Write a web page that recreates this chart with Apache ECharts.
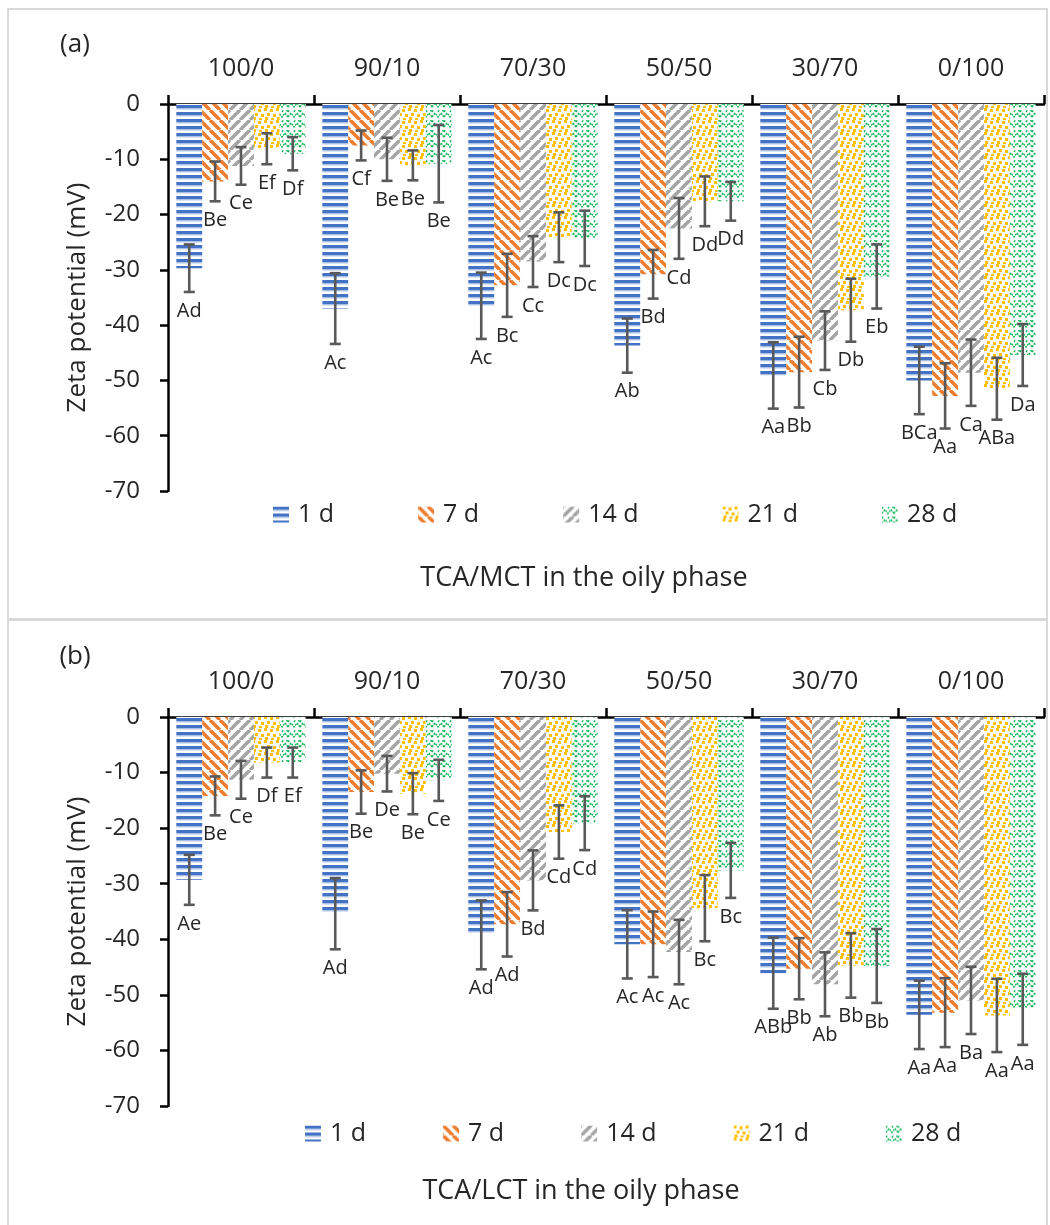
<!DOCTYPE html>
<html>
<head>
<meta charset="utf-8">
<script src="https://cdn.jsdelivr.net/npm/echarts@6/dist/echarts.min.js"></script>
<style>
  html, body { margin:0; padding:0; background:#fff; }
  body { width:1050px; height:1225px; position:relative; overflow:hidden; }
  .frame { position:absolute; box-sizing:border-box; border:2.5px solid #d9d9d9; }
  .chart { position:absolute; left:0; width:1050px; }
</style>
</head>
<body>
<div class="frame" style="left:7px; top:8px; width:1041px; height:613px;"></div>
<div class="frame" style="left:7px; top:618px; width:1041px; height:640px;"></div>
<div id="chartA" class="chart" style="top:0; height:619px;"></div>
<div id="chartB" class="chart" style="top:620px; height:605px;"></div>
<script>
// ---------------- DATA ----------------
const categories = ['100/0', '90/10', '70/30', '50/50', '30/70', '0/100'];
const seriesNames = ['1 d', '7 d', '14 d', '21 d', '28 d'];
const yTicks = { min: -70, max: 0, step: 10 };

// Panel (a): TCA/MCT — mean zeta potential (mV)
const mct_1d  = [-29.7, -37.0, -36.5, -43.7, -49.1, -50.0];
const mct_7d  = [-14.0,  -7.5, -32.8, -30.8, -48.5, -52.8];
const mct_14d = [-11.2, -10.0, -28.5, -22.5, -42.8, -48.6];
const mct_21d = [ -8.1, -11.1, -24.1, -17.6, -37.3, -51.5];
const mct_28d = [ -9.0, -10.8, -24.3, -17.6, -31.2, -45.4];
// Panel (a): standard deviations
const mct_1d_sd  = [4.3, 6.4, 6.0, 4.9, 6.0, 6.1];
const mct_7d_sd  = [3.6, 2.7, 5.7, 4.4, 6.4, 5.9];
const mct_14d_sd = [3.4, 3.9, 4.6, 5.5, 5.3, 6.0];
const mct_21d_sd = [2.8, 2.7, 4.5, 4.5, 5.7, 5.6];
const mct_28d_sd = [3.0, 7.0, 5.0, 3.5, 5.8, 5.6];
// Panel (a): significance letters
const mct_1d_lbl  = ['Ad', 'Ac', 'Ac', 'Ab', 'Aa', 'BCa'];
const mct_7d_lbl  = ['Be', 'Cf', 'Bc', 'Bd', 'Bb', 'Aa'];
const mct_14d_lbl = ['Ce', 'Be', 'Cc', 'Cd', 'Cb', 'Ca'];
const mct_21d_lbl = ['Ef', 'Be', 'Dc', 'Dd', 'Db', 'ABa'];
const mct_28d_lbl = ['Df', 'Be', 'Dc', 'Dd', 'Eb', 'Da'];

// Panel (b): TCA/LCT — mean zeta potential (mV)
const lct_1d  = [-29.3, -35.4, -39.2, -40.9, -46.1, -53.6];
const lct_7d  = [-14.2, -13.5, -37.3, -40.9, -45.3, -53.2];
const lct_14d = [-11.3, -10.2, -29.4, -42.3, -48.1, -51.0];
const lct_21d = [ -8.2, -13.8, -20.7, -34.4, -44.7, -53.7];
const lct_28d = [ -8.2, -11.4, -19.1, -27.6, -44.8, -52.6];
// Panel (b): standard deviations
const lct_1d_sd  = [4.5, 6.4, 6.2, 6.15, 6.4, 6.15];
const lct_7d_sd  = [3.5, 3.9, 5.8, 5.9, 5.5, 6.2];
const lct_14d_sd = [3.4, 3.2, 5.4, 5.8, 5.75, 6.05];
const lct_21d_sd = [2.7, 3.7, 4.8, 5.95, 5.8, 6.6];
const lct_28d_sd = [2.7, 3.7, 4.85, 4.95, 6.65, 6.4];
// Panel (b): significance letters
const lct_1d_lbl  = ['Ae', 'Ad', 'Ad', 'Ac', 'ABb', 'Aa'];
const lct_7d_lbl  = ['Be', 'Be', 'Ad', 'Ac', 'Bb', 'Aa'];
const lct_14d_lbl = ['Ce', 'De', 'Bd', 'Ac', 'Ab', 'Ba'];
const lct_21d_lbl = ['Df', 'Be', 'Cd', 'Bc', 'Bb', 'Aa'];
const lct_28d_lbl = ['Ef', 'Ce', 'Cd', 'Bc', 'Bb', 'Aa'];

// ---------------- PATTERNS ----------------
const COLORS = ['#4472C4', '#ED7D31', '#A5A5A5', '#FFC000', '#00B050'];
function makeCanvas(w, h) {
  const c = document.createElement('canvas');
  c.width = w; c.height = h;
  const ctx = c.getContext('2d');
  ctx.fillStyle = '#ffffff'; ctx.fillRect(0, 0, w, h);
  return [c, ctx];
}
function patHorizontal(col) {
  const [c, ctx] = makeCanvas(8, 7);
  ctx.fillStyle = col; ctx.fillRect(0, 0, 8, 3.5);
  ctx.fillStyle = '#b4c7e7'; ctx.fillRect(0, 3.5, 8, 1);
  return c;
}
function patDiag(col, down) {
  const s = 10;
  const [c, ctx] = makeCanvas(s, s);
  ctx.strokeStyle = col; ctx.lineWidth = 3.6; ctx.lineCap = 'butt';
  for (let o = -s; o <= s; o += s) {
    ctx.beginPath();
    if (down) { ctx.moveTo(o, 0); ctx.lineTo(o + s, s); }
    else { ctx.moveTo(o, s); ctx.lineTo(o + s, 0); }
    ctx.stroke();
  }
  return c;
}
function patConfetti(col) {
  const [c, ctx] = makeCanvas(12, 12);
  ctx.fillStyle = col;
  const pts = [[0,0],[6,1],[3,5],[9,6],[1,9],[7,10]];
  pts.forEach(p => ctx.fillRect(p[0], p[1], 3, 3));
  return c;
}
function patWave(col) {
  const [c, ctx] = makeCanvas(12, 10);
  ctx.strokeStyle = col; ctx.lineWidth = 1.4;
  ctx.setLineDash([2, 1]);
  ctx.beginPath();
  ctx.moveTo(0, 7); ctx.lineTo(3, 3); ctx.lineTo(6, 7); ctx.lineTo(9, 3); ctx.lineTo(12, 7);
  ctx.stroke();
  ctx.beginPath();
  ctx.moveTo(0, 2); ctx.lineTo(1.5, 0); ctx.moveTo(6, 2); ctx.lineTo(7.5, 0); ctx.moveTo(10.5,0); ctx.lineTo(12,2);
  ctx.stroke();
  return c;
}
const PATTERNS = [
  { image: patHorizontal(COLORS[0]), repeat: 'repeat' },
  { image: patDiag(COLORS[1], true), repeat: 'repeat' },
  { image: patDiag(COLORS[2], false), repeat: 'repeat' },
  { image: patConfetti(COLORS[3]), repeat: 'repeat' },
  { image: patWave(COLORS[4]), repeat: 'repeat' }
];

// ---------------- CHART BUILDER ----------------
const GAP = 0.114;
const FONT = 'Open Sans';
const TXT = '#262626';

function buildOption(p) {
  const series = [];
  p.means.forEach((m, k) => {
    series.push({
      name: seriesNames[k], type: 'bar', data: m,
      barGap: '0%', barCategoryGap: (GAP * 100) + '%',
      itemStyle: { color: PATTERNS[k] }, z: 2
    });
  });
  p.means.forEach((m, k) => {
    const sd = p.sds[k], lbl = p.labels[k];
    series.push({
      name: 'err' + k, type: 'custom', z: 5, clip: false,
      data: m.map((v, i) => [i, v, sd[i]]),
      encode: { x: 0, y: 1 },
      renderItem: function (params, api) {
        const ci = api.value(0), mean = api.value(1), err = api.value(2);
        const c = api.coord([ci, mean]);
        const band = api.size([1, 0])[0];
        const gw = band * (1 - GAP), bw = gw / seriesNames.length;
        const x = c[0] - gw / 2 + (k + 0.5) * bw;
        const yT = api.coord([ci, mean + err])[1];
        const yB = api.coord([ci, mean - err])[1];
        const st = { stroke: '#595959', lineWidth: 2.6 };
        const cap = 5.5;
        return {
          type: 'group',
          children: [
            { type: 'line', shape: { x1: x, y1: yT, x2: x, y2: yB }, style: st },
            { type: 'line', shape: { x1: x - cap, y1: yT, x2: x + cap, y2: yT }, style: st },
            { type: 'line', shape: { x1: x - cap, y1: yB, x2: x + cap, y2: yB }, style: st },
            { type: 'text', x: x, y: yB + 19,
              style: { text: lbl[params.dataIndex], fill: TXT, font: '20px "' + FONT + '"',
                       align: 'center', verticalAlign: 'middle' } }
          ]
        };
      }
    });
  });
  return {
    animation: false,
    textStyle: { fontFamily: FONT },
    grid: { left: 168, right: 6, top: p.gridTop, height: p.gridH, containLabel: false },
    legend: {
      data: seriesNames, left: p.legendLeft, top: p.legendTop, itemGap: p.legendGap,
      itemWidth: 16, itemHeight: 16, icon: 'rect',
      textStyle: { fontSize: 25, color: TXT, fontFamily: FONT, padding: [0, 0, 0, 4] }
    },
    xAxis: {
      type: 'category', data: categories, position: 'top',
      axisLine: { onZero: false, lineStyle: { color: '#000', width: 2.5 } },
      axisTick: { show: true, length: 9, lineStyle: { color: '#000', width: 2.5 } },
      axisLabel: { fontSize: 25, color: TXT, margin: 23, fontFamily: FONT },
      splitLine: { show: false }
    },
    yAxis: {
      type: 'value', min: yTicks.min, max: yTicks.max, interval: yTicks.step,
      axisLine: { show: true, lineStyle: { color: '#000', width: 2.5 } },
      axisTick: { show: true, length: 8, lineStyle: { color: '#000', width: 2.5 } },
      axisLabel: { fontSize: 24, color: TXT, margin: 28, fontFamily: FONT },
      splitLine: { show: false }
    },
    graphic: [
      { type: 'text', x: 75, y: p.tagY, style: { text: p.tag, fill: TXT, font: '26px "' + FONT + '"', align: 'center', verticalAlign: 'middle' } },
      { type: 'text', x: 78, y: p.gridTop + p.gridH / 2, rotation: Math.PI / 2,
        style: { text: 'Zeta potential (mV)', fill: TXT, font: '26px "' + FONT + '"', align: 'center', verticalAlign: 'middle' } },
      { type: 'text', x: p.xTitleX, y: p.xTitleY, style: { text: p.xTitle, fill: TXT, font: '27px "' + FONT + '"', align: 'center', verticalAlign: 'middle' } }
    ],
    series: series
  };
}

const chartA = echarts.init(document.getElementById('chartA'), null, { renderer: 'canvas' });
chartA.setOption(buildOption({
  means: [mct_1d, mct_7d, mct_14d, mct_21d, mct_28d],
  sds: [mct_1d_sd, mct_7d_sd, mct_14d_sd, mct_21d_sd, mct_28d_sd],
  labels: [mct_1d_lbl, mct_7d_lbl, mct_14d_lbl, mct_21d_lbl, mct_28d_lbl],
  gridTop: 104, gridH: 387, legendLeft: 268, legendTop: 497, legendGap: 84,
  tag: '(a)', tagY: 45, xTitle: 'TCA/MCT in the oily phase', xTitleX: 584, xTitleY: 578
}));

const chartB = echarts.init(document.getElementById('chartB'), null, { renderer: 'canvas' });
chartB.setOption(buildOption({
  means: [lct_1d, lct_7d, lct_14d, lct_21d, lct_28d],
  sds: [lct_1d_sd, lct_7d_sd, lct_14d_sd, lct_21d_sd, lct_28d_sd],
  labels: [lct_1d_lbl, lct_7d_lbl, lct_14d_lbl, lct_21d_lbl, lct_28d_lbl],
  gridTop: 97, gridH: 389, legendLeft: 300, legendTop: 496, legendGap: 77,
  tag: '(b)', tagY: 37, xTitle: 'TCA/LCT in the oily phase', xTitleX: 581, xTitleY: 571
}));
</script>
</body>
</html>
